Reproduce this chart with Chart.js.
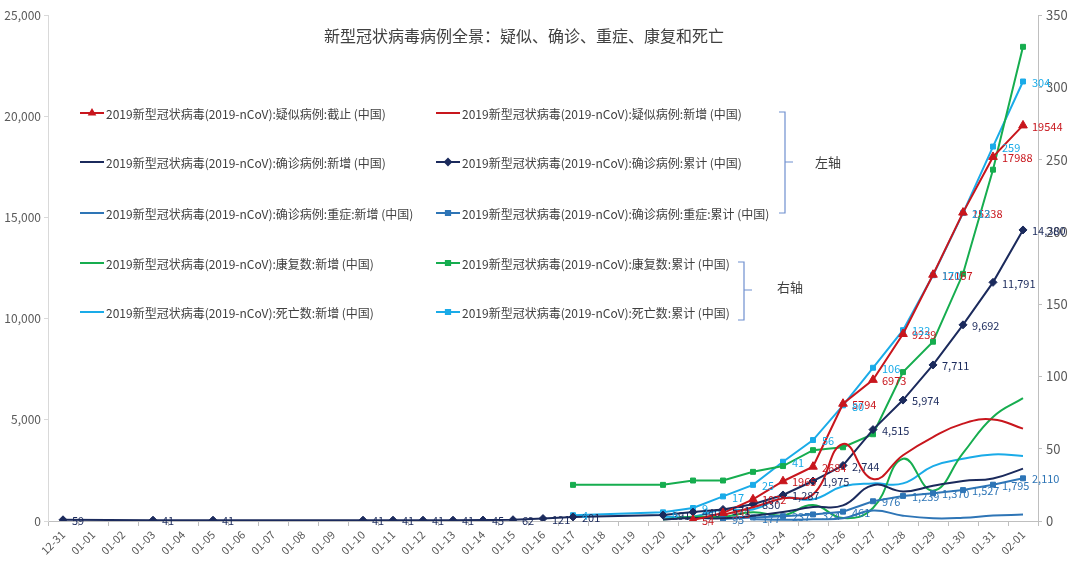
<!DOCTYPE html>
<html>
<head>
<meta charset="utf-8">
<script src="https://cdn.jsdelivr.net/npm/chart.js@4"></script>
<style>
  body { margin: 0; background: #fff; }
  canvas { display: block; }
</style>
</head>
<body>
<canvas id="ncov" width="1080" height="563"></canvas>
<script>
// dates on the x axis
const dates = ['12-31','01-01','01-02','01-03','01-04','01-05','01-06','01-07','01-08','01-09',
  '01-10','01-11','01-12','01-13','01-14','01-15','01-16','01-17','01-18','01-19',
  '01-20','01-21','01-22','01-23','01-24','01-25','01-26','01-27','01-28','01-29',
  '01-30','01-31','02-01'];

const _ = null;
// left axis
const suspectedTotal = [_,_,_,_,_,_,_,_,_,_, _,_,_,_,_,_,_,_,_,_, _,54,393,1072,1965,2684,5794,6973,9239,12167, 15238,17988,19544];
const suspectedNew   = [_,_,_,_,_,_,_,_,_,_, _,_,_,_,_,_,_,_,_,_, _,_,300,680,1118,1309,3806,2077,3248,4148, 4812,5019,4562];
const confirmedNew   = [_,_,_,_,_,_,_,_,_,_, _,_,_,_,_,_,_,_,_,_, 77,149,131,259,444,688,769,1771,1459,1737, 1982,2102,2590];
const confirmedTotal = [59,_,_,41,_,41,_,_,_,_, 41,41,41,41,45,62,121,201,_,_, 291,440,571,830,1287,1975,2744,4515,5974,7711, 9692,11791,14380];
const severeNew      = [_,_,_,_,_,_,_,_,_,_, _,_,_,_,_,_,_,_,_,_, _,_,_,82,60,87,137,515,263,131, 157,268,315];
const severeTotal    = [_,_,_,_,_,_,_,_,_,_, _,_,_,_,_,_,_,_,_,_, _,_,95,177,237,324,461,976,1239,1370, 1527,1795,2110];
// right axis
const recoveredNew   = [_,_,_,_,_,_,_,_,_,_, _,_,_,_,_,_,_,_,_,_, 1,3,3,6,4,11,2,9,43,21, 47,72,85];
const recoveredTotal = [_,_,_,_,_,_,_,_,_,_, _,_,_,_,_,_,_,25,_,_, 25,28,28,34,38,49,51,60,103,124, 171,243,328];
const deathNew       = [_,_,_,_,_,_,_,_,_,_, _,_,_,_,_,_,_,_,_,_, 3,3,8,8,16,15,24,26,26,38, 43,46,45];
const deathTotal     = [_,_,_,_,_,_,_,_,_,_, _,_,_,_,_,_,_,4,_,_, 6,9,17,25,41,56,80,106,132,170, 213,259,304];

const leftTicks = [0, 5000, 10000, 15000, 20000, 25000];
const rightTicks = [0, 50, 100, 150, 200, 250, 300, 350];

const RED = '#C8161D', NAVY = '#1B2A5C', BLUE = '#2E75B6', GREEN = '#16AD4F', SKY = '#1AABE8';
const FONT = '"Noto Sans CJK SC", "Noto Sans", sans-serif';
const pre = '2019新型冠状病毒(2019-nCoV):';

function markerLine(label, data, color, style, r, axis, fmt) {
  return {
    label: label, data: data, yAxisID: axis,
    borderColor: color, backgroundColor: color,
    pointBackgroundColor: color, pointBorderColor: color,
    pointStyle: style, pointRadius: r, pointBorderWidth: 1,
    borderWidth: 2, tension: 0, spanGaps: true,
    numFmt: fmt
  };
}
function smoothLine(label, data, color, axis) {
  return {
    label: label, data: data, yAxisID: axis,
    borderColor: color, backgroundColor: color,
    pointRadius: 0, borderWidth: 2, tension: 0.45, spanGaps: true
  };
}

// order = legend order (row by row, left column then right)
const datasets = [
  markerLine(pre + '疑似病例:截止 (中国)', suspectedTotal, RED, 'triangle', 5, 'y', 'plain'),
  smoothLine(pre + '疑似病例:新增 (中国)', suspectedNew, RED, 'y'),
  smoothLine(pre + '确诊病例:新增 (中国)', confirmedNew, NAVY, 'y'),
  markerLine(pre + '确诊病例:累计 (中国)', confirmedTotal, NAVY, 'rectRot', 4, 'y', 'comma'),
  smoothLine(pre + '确诊病例:重症:新增 (中国)', severeNew, BLUE, 'y'),
  markerLine(pre + '确诊病例:重症:累计 (中国)', severeTotal, BLUE, 'rect', 3.5, 'y', 'comma'),
  smoothLine(pre + '康复数:新增 (中国)', recoveredNew, GREEN, 'y1'),
  markerLine(pre + '康复数:累计 (中国)', recoveredTotal, GREEN, 'rect', 3.5, 'y1', null),
  smoothLine(pre + '死亡数:新增 (中国)', deathNew, SKY, 'y1'),
  markerLine(pre + '死亡数:累计 (中国)', deathTotal, SKY, 'rect', 3.5, 'y1', 'plain')
];

const overlay = {
  id: 'overlay',
  afterDatasetsDraw(chart) {
    const ctx = chart.ctx;
    chart.data.datasets.forEach((ds, i) => {
      if (!ds.numFmt) return;
      const meta = chart.getDatasetMeta(i);
      ctx.save();
      ctx.font = '11px ' + FONT;
      ctx.fillStyle = ds.borderColor;
      ctx.textBaseline = 'middle';
      meta.data.forEach((pt, j) => {
        const v = ds.data[j];
        if (v == null) return;
        const txt = ds.numFmt === 'comma' ? v.toLocaleString('en-US') : String(v);
        ctx.fillText(txt, pt.x + 9, pt.y + 1);
      });
      ctx.restore();
    });
  },
  afterDraw(chart) {
    const ctx = chart.ctx;
    ctx.save();
    // title
    ctx.font = '16px ' + FONT;
    ctx.fillStyle = '#404040';
    ctx.textAlign = 'center';
    ctx.textBaseline = 'middle';
    ctx.fillText('新型冠状病毒病例全景：疑似、确诊、重症、康复和死亡', 524, 36);

    // legend, two columns inside the plot
    const rows = [113, 162, 213, 263, 312];
    const cols = [80, 436];
    ctx.font = '12px ' + FONT;
    ctx.textAlign = 'left';
    chart.data.datasets.forEach((ds, i) => {
      const x = cols[i % 2], y = rows[Math.floor(i / 2)];
      ctx.strokeStyle = ds.borderColor;
      ctx.lineWidth = 2;
      ctx.beginPath();
      ctx.moveTo(x, y);
      ctx.lineTo(x + 24, y);
      ctx.stroke();
      if (ds.numFmt !== undefined) {
        Chart.helpers.drawPoint(ctx, {pointStyle: ds.pointStyle, radius: 3, borderWidth: 1}, x + 12, y);
        ctx.fillStyle = ds.borderColor;
        ctx.fill();
      }
      ctx.fillStyle = '#404040';
      ctx.fillText(ds.label, x + 26, y + 1);
    });

    // braces
    ctx.strokeStyle = '#6F8FCF';
    ctx.lineWidth = 1.2;
    function brace(x, top, bottom, mid) {
      ctx.beginPath();
      ctx.moveTo(x - 6, top);
      ctx.lineTo(x, top);
      ctx.lineTo(x, bottom);
      ctx.lineTo(x - 6, bottom);
      ctx.moveTo(x, mid);
      ctx.lineTo(x + 8, mid);
      ctx.stroke();
    }
    brace(785, 112, 213, 162);
    brace(744, 262, 320, 290);
    ctx.font = '13px ' + FONT;
    ctx.fillStyle = '#404040';
    ctx.textBaseline = 'middle';
    ctx.fillText('左轴', 815, 162);
    ctx.fillText('右轴', 777, 287);
    ctx.restore();
  }
};

Chart.defaults.font.family = FONT;
Chart.defaults.color = '#595959';

new Chart(document.getElementById('ncov'), {
  type: 'line',
  data: { labels: dates, datasets: datasets },
  options: {
    responsive: false,
    devicePixelRatio: 1,
    animation: false,
    layout: { padding: { top: 15, left: 0, right: 0, bottom: 0 } },
    plugins: { legend: { display: false }, tooltip: { enabled: false } },
    scales: {
      x: {
        offset: true,
        grid: { display: true, drawOnChartArea: false, offset: true, tickLength: 5, color: '#BFBFBF' },
        border: { display: true, color: '#BFBFBF' },
        ticks: { autoSkip: false, minRotation: 45, maxRotation: 45, padding: 2, font: { size: 11 } },
        afterFit(s) { s.height = 42; }
      },
      y: {
        position: 'left',
        min: 0, max: 25000,
        afterBuildTicks(s) { s.ticks = leftTicks.map(v => ({ value: v })); },
        grid: { display: true, drawOnChartArea: false, tickLength: 4, color: '#D9D9D9' },
        border: { display: true, color: '#D9D9D9' },
        ticks: { padding: 3, font: { size: 12 }, callback: v => v.toLocaleString('en-US') },
        afterFit(s) { s.width = 48; }
      },
      y1: {
        position: 'right',
        min: 0, max: 350,
        afterBuildTicks(s) { s.ticks = rightTicks.map(v => ({ value: v })); },
        grid: { display: true, drawOnChartArea: false, tickLength: 4, color: '#BFBFBF' },
        border: { display: true, color: '#BFBFBF' },
        ticks: { padding: 4, font: { size: 13 } },
        afterFit(s) { s.width = 42; }
      }
    }
  },
  plugins: [overlay]
});
</script>
</body>
</html>
